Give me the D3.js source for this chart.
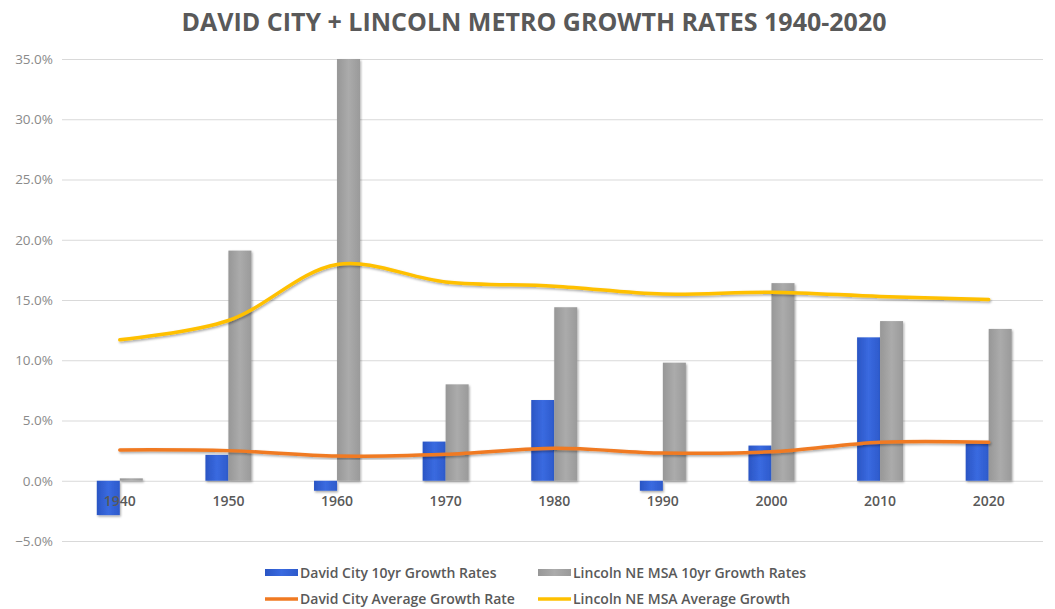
<!DOCTYPE html>
<html>
<head>
<meta charset="utf-8">
<script src="https://cdn.jsdelivr.net/npm/d3@7"></script>
<style>
  html, body { margin: 0; padding: 0; background: #fff; }
  svg { display: block; }
</style>
</head>
<body>
<svg id="chart" width="1055" height="609"></svg>
<script>
// Decades on the category axis
const years = ["1940", "1950", "1960", "1970", "1980", "1990", "2000", "2010", "2020"];
// Ten-year growth rates (%)
const davidCity10yr = [-2.85, 2.15, -0.83, 3.25, 6.7, -0.83, 2.92, 11.9, 3.1];
const lincolnMsa10yr = [0.2, 19.1, 35.0, 8.0, 14.4, 9.8, 16.4, 13.25, 12.6];
// Running average growth rates (%)
const davidCityAvg = [2.56, 2.5, 2.05, 2.2, 2.7, 2.3, 2.4, 3.2, 3.2];
const lincolnMsaAvg = [11.7, 13.3, 17.95, 16.5, 16.15, 15.5, 15.65, 15.3, 15.05];
// Value axis ticks (%)
const yTicks = [-5, 0, 5, 10, 15, 20, 25, 30, 35];

const barSeries = [
  { name: "David City 10yr Growth Rates", values: davidCity10yr, color: "#3563d4" },
  { name: "Lincoln NE MSA 10yr Growth Rates", values: lincolnMsa10yr, color: "#a3a3a3" }
];
const lineSeries = [
  { name: "David City Average Growth Rate", values: davidCityAvg, color: "#f07a22" },
  { name: "Lincoln NE MSA Average Growth", values: lincolnMsaAvg, color: "#ffc000" }
];

const svg = d3.select("#chart");
const font = "'Open Sans', 'Noto Sans', sans-serif";

const defs = svg.append("defs");
const shadow = defs.append("filter").attr("id", "shadow")
  .attr("x", "-20%").attr("y", "-20%").attr("width", "140%").attr("height", "140%");
shadow.append("feDropShadow").attr("dx", 1).attr("dy", 1.5).attr("stdDeviation", 1.2)
  .attr("flood-color", "#000").attr("flood-opacity", 0.35);

const blueGrad = defs.append("linearGradient").attr("id", "blueGrad")
  .attr("x1", "0").attr("x2", "1").attr("y1", "0").attr("y2", "0");
blueGrad.append("stop").attr("offset", "0%").attr("stop-color", "#2a55c4");
blueGrad.append("stop").attr("offset", "50%").attr("stop-color", "#3a6ae0");
blueGrad.append("stop").attr("offset", "100%").attr("stop-color", "#2d5acb");
const greyGrad = defs.append("linearGradient").attr("id", "greyGrad")
  .attr("x1", "0").attr("x2", "1").attr("y1", "0").attr("y2", "0");
greyGrad.append("stop").attr("offset", "0%").attr("stop-color", "#979797");
greyGrad.append("stop").attr("offset", "50%").attr("stop-color", "#ababab");
greyGrad.append("stop").attr("offset", "100%").attr("stop-color", "#9a9a9a");
const fills = ["url(#blueGrad)", "url(#greyGrad)"];

const x = d3.scaleBand().domain(years).range([65.5, 1043]).padding(0);
const groupWidth = 46;
const xSub = d3.scaleBand().domain(d3.range(barSeries.length)).range([-groupWidth / 2, groupWidth / 2]);
const y = d3.scaleLinear().domain([-5, 35]).range([541, 59]);
const cx = d => x(d) + x.bandwidth() / 2;

// Title
svg.append("text")
  .attr("x", 534).attr("y", 31)
  .attr("text-anchor", "middle")
  .attr("font-family", font).attr("font-weight", 700).attr("font-size", 25)
  .attr("fill", "#595959")
  .text("DAVID CITY + LINCOLN METRO GROWTH RATES 1940-2020");

// Horizontal gridlines and value axis labels
const yAxis = d3.axisLeft(y).tickValues(yTicks)
  .tickFormat(d => d3.format(".1f")(d) + "%")
  .tickSize(-(1043 - 62)).tickPadding(9);
const gy = svg.append("g").attr("transform", "translate(62,0)").call(yAxis);
gy.select(".domain").remove();
gy.selectAll(".tick line").attr("stroke", "#d9d9d9").attr("stroke-width", 1);
gy.selectAll(".tick text")
  .attr("font-family", font).attr("font-size", 13.5).attr("fill", "#8a8a8a");

// Clustered bars
const groups = svg.append("g").selectAll("g").data(barSeries).join("g")
  .attr("filter", "url(#shadow)");
groups.each(function (s, i) {
  d3.select(this).selectAll("rect").data(s.values).join("rect")
    .attr("x", (v, j) => cx(years[j]) + xSub(i))
    .attr("width", xSub.bandwidth())
    .attr("y", v => y(Math.max(0, v)))
    .attr("height", v => Math.abs(y(v) - y(0)))
    .attr("fill", fills[i]);
});

// Category axis labels
const xAxis = d3.axisBottom(x).tickSize(0).tickPadding(15);
const gx = svg.append("g").attr("transform", `translate(0,${y(0)})`).call(xAxis);
gx.select(".domain").remove();
gx.selectAll(".tick text")
  .attr("font-family", font).attr("font-weight", 600).attr("font-size", 14)
  .attr("fill", "#595959");

// Smoothed average lines
const line = d3.line()
  .x((v, j) => cx(years[j]))
  .y(v => y(v))
  .curve(d3.curveCatmullRom.alpha(0.5));
svg.append("g").selectAll("path").data(lineSeries).join("path")
  .attr("d", s => line(s.values))
  .attr("fill", "none")
  .attr("stroke", s => s.color)
  .attr("stroke-width", 3.5)
  .attr("stroke-linecap", "round")
  .attr("filter", "url(#shadow)");

// Legend
const legendItems = [
  { ...barSeries[0], type: "bar", lx: 265, ly: 573, fill: fills[0] },
  { ...barSeries[1], type: "bar", lx: 538, ly: 573, fill: fills[1] },
  { ...lineSeries[0], type: "line", lx: 265, ly: 599 },
  { ...lineSeries[1], type: "line", lx: 538, ly: 599 }
];
const lg = svg.append("g").selectAll("g").data(legendItems).join("g")
  .attr("transform", d => `translate(${d.lx},${d.ly})`);
lg.filter(d => d.type === "bar").append("rect")
  .attr("x", 0).attr("y", -4).attr("width", 33).attr("height", 7)
  .attr("fill", d => d.fill);
lg.filter(d => d.type === "line").append("line")
  .attr("x1", 0).attr("x2", 33).attr("y1", 0).attr("y2", 0)
  .attr("stroke", d => d.color).attr("stroke-width", 3.5);
lg.append("text")
  .attr("x", 35).attr("y", 5)
  .attr("font-family", font).attr("font-weight", 600).attr("font-size", 14)
  .attr("fill", "#595959")
  .text(d => d.name);
</script>
</body>
</html>
